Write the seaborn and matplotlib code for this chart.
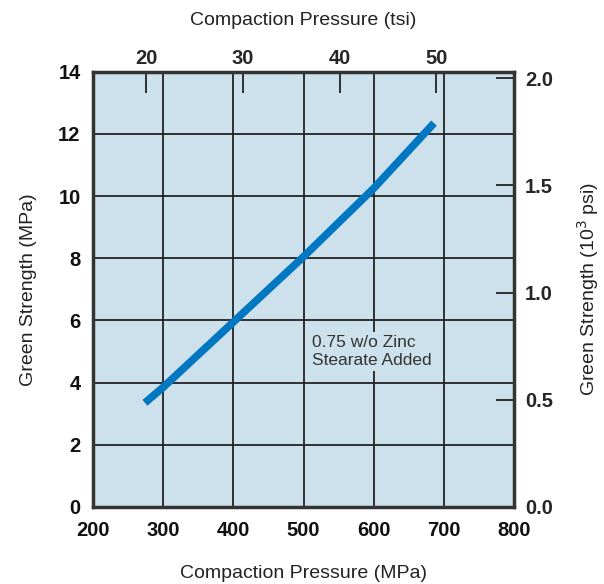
import matplotlib
matplotlib.use("Agg")
import matplotlib.pyplot as plt
import seaborn as sns
import pandas as pd
from matplotlib import font_manager

# Data
pressure_mpa = [274, 300, 400, 500, 600, 686]
green_strength_mpa = [3.35, 3.85, 5.95, 8.05, 10.25, 12.35]
x_ticks = [200, 300, 400, 500, 600, 700, 800]
y_ticks = [0, 2, 4, 6, 8, 10, 12, 14]
tsi_ticks = [20, 30, 40, 50]
psi_ticks = [0.0, 0.5, 1.0, 1.5, 2.0]
annotation = "0.75 w/o Zinc\nStearate Added"

MPA_PER_TSI = 13.79
MPA_PER_KSI = 6.895

sns.set_theme(style="white")
names = {f.name for f in font_manager.fontManager.ttflist}
base = "Liberation Sans" if "Liberation Sans" in names else "DejaVu Sans"
narrow = "Liberation Sans Narrow" if "Liberation Sans Narrow" in names else base
plt.rcParams['font.family'] = [base, 'DejaVu Sans']

bg = "#cce1eb"
line_c = "#0077c0"
txt = "#222222"

fig = plt.figure(figsize=(6.04, 5.84), dpi=100)
ax = fig.add_axes([0.154, 0.132, 0.697, 0.745])
ax.set_facecolor(bg)

df = pd.DataFrame({"x": pressure_mpa, "y": green_strength_mpa})
sns.lineplot(data=df, x="x", y="y", ax=ax, color=line_c, linewidth=5.5,
             solid_capstyle="butt", zorder=5)

ax.set_xlim(200, 800)
ax.set_ylim(0, 14)
ax.set_xticks(x_ticks)
ax.set_yticks(y_ticks)
ax.grid(True, color="#222222", linewidth=1.3)
ax.set_axisbelow(True)
for s in ax.spines.values():
    s.set_linewidth(2.5)
    s.set_color("#333333")
    s.set_zorder(6)

tick_font = dict(family=[narrow, base], weight="bold", size=14.5)
ax.set_xticklabels([str(t) for t in x_ticks], fontdict=tick_font)
ax.set_yticklabels([str(t) for t in y_ticks], fontdict=tick_font)
ax.tick_params(axis="both", length=0, colors="#111111")
ax.tick_params(axis="x", pad=10)
ax.tick_params(axis="y", pad=9)

ax.set_xlabel("Compaction Pressure (MPa)", fontsize=14, color=txt, labelpad=18)
ax.set_ylabel("Green Strength (MPa)", fontsize=14, color=txt, labelpad=15)

# top axis (tsi)
top = ax.secondary_xaxis("top", functions=(lambda v: v / MPA_PER_TSI, lambda v: v * MPA_PER_TSI))
top.set_xticks(tsi_ticks)
top.set_xticklabels([str(t) for t in tsi_ticks], fontdict=tick_font)
top.tick_params(direction="in", length=15, width=1.3, color="#222222", pad=3)
top.set_xlabel("Compaction Pressure (tsi)", fontsize=14, color=txt, labelpad=17)
top.spines["top"].set_visible(False)

# right axis (10^3 psi)
right = ax.secondary_yaxis("right", functions=(lambda v: v / MPA_PER_KSI, lambda v: v * MPA_PER_KSI))
right.set_yticks(psi_ticks)
right.set_yticklabels([f"{t:.1f}" for t in psi_ticks], fontdict=tick_font)
right.tick_params(direction="in", length=13, width=1.3, color="#222222", pad=8)
right.set_ylabel("Green Strength (10$^3$ psi)", fontsize=14, color=txt, labelpad=16)
right.spines["right"].set_visible(False)

ax.text(512, 5.0, annotation, fontsize=12.5, color="#333333", ha="left", va="center",
        linespacing=1.3, zorder=4,
        bbox=dict(facecolor=bg, edgecolor="none", pad=2))

fig.savefig("out.png", dpi=100)
